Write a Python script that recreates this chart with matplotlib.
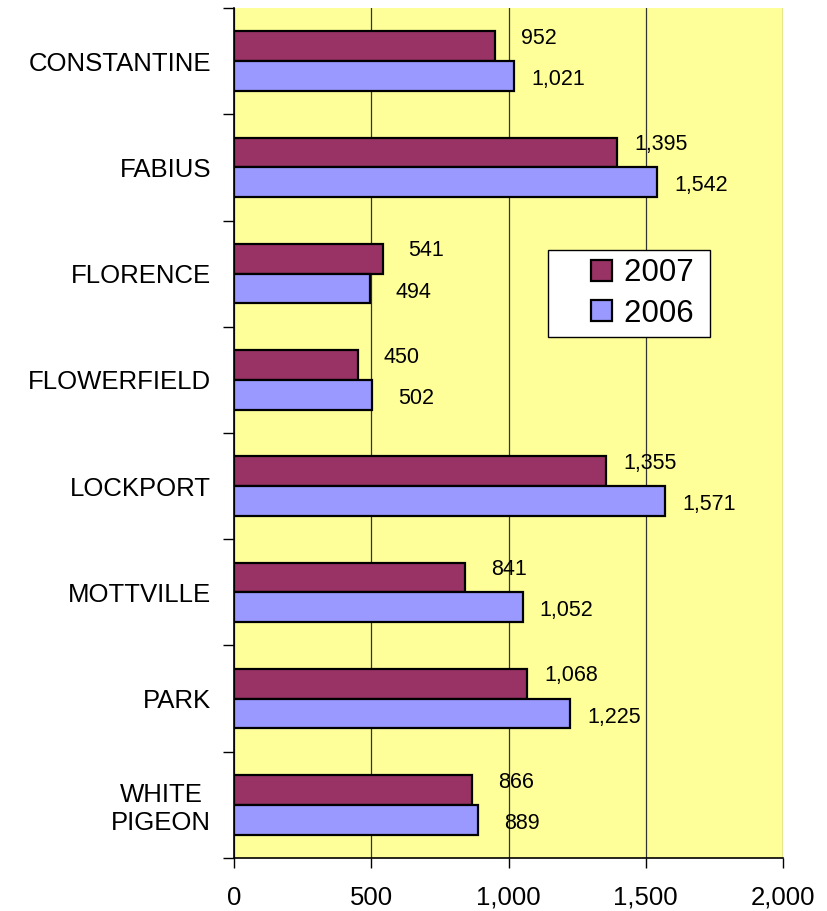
import numpy as np
import matplotlib
matplotlib.use("Agg")
import matplotlib.pyplot as plt
from matplotlib.patches import Rectangle
from matplotlib.container import BarContainer
from matplotlib.legend_handler import HandlerPatch, update_from_first_child

plt.rcParams['font.family'] = ['Liberation Sans', 'DejaVu Sans']

# data
towns = ["CONSTANTINE", "FABIUS", "FLORENCE", "FLOWERFIELD",
         "LOCKPORT", "MOTTVILLE", "PARK", "WHITE\nPIGEON"]
v2007 = [952, 1395, 541, 450, 1355, 841, 1068, 866]
v2006 = [1021, 1542, 494, 502, 1571, 1052, 1225, 889]
xticks = [0, 500, 1000, 1500, 2000]

fig = plt.figure(figsize=(8.28, 9.11), dpi=100)
ax = fig.add_axes([0.2826, 0.0582, 0.6631, 0.933])
ax.set_facecolor("#FFFF99")

y = np.arange(len(towns))
h = 0.28
ax.barh(y - h / 2, v2007, height=h, color="#993366", edgecolor="black",
        linewidth=1.6, label="2007 ", zorder=3)
ax.barh(y + h / 2, v2006, height=h, color="#9999FF", edgecolor="black",
        linewidth=1.6, label="2006 ", zorder=3)

# value labels, a bit right of each bar end
for yi, a, b in zip(y, v2007, v2006):
    ax.text(a + 160, yi - h / 2 - 0.075, f"{a:,}", ha="center", va="center",
            fontsize=15.5, zorder=4)
    ax.text(b + 160, yi + h / 2 + 0.035, f"{b:,}", ha="center", va="center",
            fontsize=15.5, zorder=4)

ax.set_xlim(0, 2000)
ax.set_ylim(len(towns) - 0.5, -0.5)
ax.set_xticks(xticks)
ax.set_xticklabels([f"{t:,}" for t in xticks], fontsize=18.5)
ax.xaxis.grid(True, color="#333333", linewidth=0.9, zorder=1)

# category labels at centres, tick marks at category boundaries
ax.set_yticks(y)
ax.set_yticklabels(towns, fontsize=18.5, multialignment="center")
ax.tick_params(axis="y", length=0, pad=16.5)
ax.set_yticks(np.arange(len(towns) + 1) - 0.5, minor=True)
ax.tick_params(axis="y", which="minor", length=8, width=1, direction="out")
ax.tick_params(axis="x", length=7, width=1, direction="out", pad=13)

for s in ("top", "right"):
    ax.spines[s].set_visible(False)
ax.spines["left"].set_linewidth(1.2)
ax.spines["bottom"].set_linewidth(1.2)


# small square legend key sitting at the right of its handle box
def square(legend, orig_handle, xdescent, ydescent, width, height, fontsize):
    s = 0.67 * fontsize
    return Rectangle((-xdescent + width - s, -ydescent + (height - s) / 2), s, s)


leg = ax.legend(loc="upper left", bbox_to_anchor=(0.572, 0.715), fontsize=22.5,
                frameon=True, fancybox=False, edgecolor="black", framealpha=1,
                handlelength=1.8, handleheight=0.7, handletextpad=0.38,
                borderpad=0.25, labelspacing=0.34, borderaxespad=0,
                handler_map={BarContainer: HandlerPatch(
                    patch_func=square, update_func=update_from_first_child)})
leg.get_frame().set_linewidth(1.0)
leg.set_zorder(5)

fig.savefig("out.png", dpi=100, facecolor="white")
